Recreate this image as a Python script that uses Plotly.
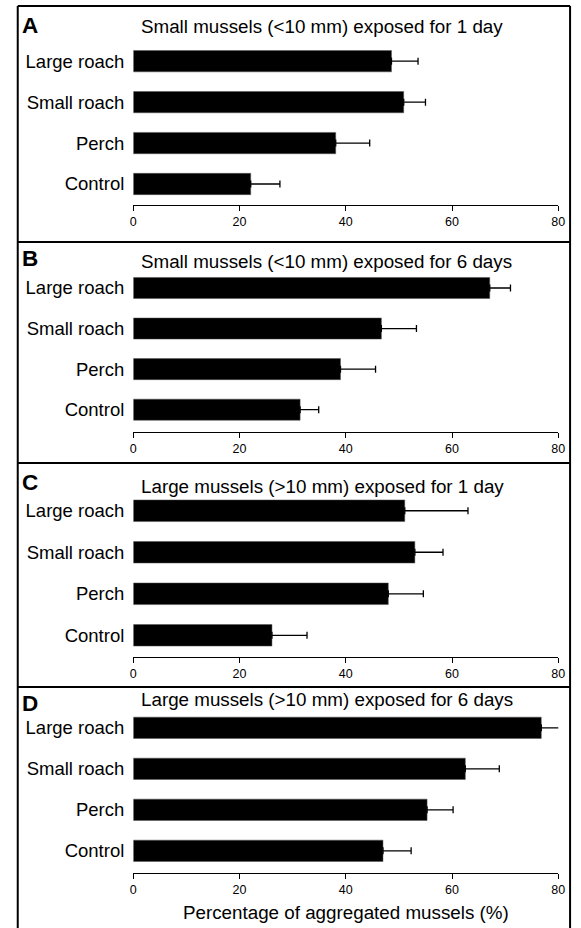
import plotly.graph_objects as go

W, H = 581, 928

categories = ["Control", "Perch", "Small roach", "Large roach"]

panel_letters = ["A", "B", "C", "D"]
panel_titles = [
    "Small mussels (<10 mm) exposed for 1 day",
    "Small mussels (<10 mm) exposed for 6 days",
    "Large mussels (>10 mm) exposed for 1 day",
    "Large mussels (>10 mm) exposed for 6 days",
]

# mean values (order: Control, Perch, Small roach, Large roach)
means_A = [22.1, 38.1, 50.9, 48.6]
means_B = [31.4, 39.0, 46.7, 67.1]
means_C = [26.1, 48.0, 53.0, 51.1]
means_D = [47.0, 55.3, 62.5, 76.8]

# upper error (error bar length)
err_A = [5.5, 6.4, 4.1, 5.0]
err_B = [3.5, 6.6, 6.6, 3.9]
err_C = [6.6, 6.6, 5.3, 11.9]
err_D = [5.3, 4.9, 6.4, 3.5]

x_ticks = [0, 20, 40, 60, 80]
x_title = "Percentage of aggregated mussels (%)"

means = [means_A, means_B, means_C, means_D]
errs = [err_A, err_B, err_C, err_D]

FONT = "Liberation Sans, Arial, sans-serif"

def py(p):
    return 1 - p / H

def px(p):
    return p / W

# layout geometry (pixels): (domain_top, axis_line, range_bottom)
geom = [
    (40.75, 205.0, -0.513),
    (267.7, 431.7, -0.542),
    (490.0, 657.3, -0.53),
    (707.3, 872.7, -0.534),
]
title_y = [27.0, 261.7, 486.5, 699.5]
letter_y = [25.5, 258.5, 482.5, 703.5]
x0_px, x80_px = 132.6, 565.0

fig = go.Figure()
layout = dict(
    width=W, height=H, autosize=False,
    margin=dict(l=0, r=0, t=0, b=0),
    paper_bgcolor="white", plot_bgcolor="white",
    showlegend=False,
    font=dict(family=FONT, color="black"),
)

annotations = []
for i in range(4):
    sfx = "" if i == 0 else str(i + 1)
    fig.add_trace(go.Bar(
        x=means[i], y=categories, orientation="h",
        marker=dict(color="black", line=dict(color="#555555", width=0.5)),
        width=0.52,
        error_x=dict(type="data", symmetric=False, array=errs[i],
                     arrayminus=[0] * 4, color="black", thickness=1.3, width=3.5),
        xaxis="x" + sfx, yaxis="y" + sfx,
        hoverinfo="skip",
    ))
    top, bot, r0 = geom[i]
    layout["xaxis" + sfx] = dict(
        domain=[px(x0_px), px(x80_px)], range=[0, 80],
        anchor="y" + sfx, tickvals=x_ticks, ticktext=[str(t) for t in x_ticks],
        showline=True, linecolor="black", linewidth=1.3,
        ticks="outside", ticklen=5, tickwidth=1.3, tickcolor="black",
        showgrid=False, zeroline=False,
        tickfont=dict(family=FONT, size=12.5, color="black"),
        fixedrange=True,
    )
    layout["yaxis" + sfx] = dict(
        domain=[py(bot), py(top)], range=[r0, 3.5],
        anchor="x" + sfx, type="category", categoryorder="array",
        categoryarray=categories,
        showline=False, showgrid=False, zeroline=False, ticks="",
        ticklabelstandoff=8,
        tickfont=dict(family=FONT, size=18.5, color="black"),
        fixedrange=True,
    )
    annotations.append(dict(
        x=px(138), y=py(title_y[i]), xref="paper", yref="paper",
        xanchor="left", yanchor="middle", showarrow=False,
        text=panel_titles[i], font=dict(family=FONT, size=18.8, color="black"),
    ))
    annotations.append(dict(
        x=px(17), y=py(letter_y[i]), xref="paper", yref="paper",
        xanchor="left", yanchor="middle", showarrow=False,
        text="<b>" + panel_letters[i] + "</b>",
        font=dict(family=FONT, size=22.5, color="black"),
    ))

annotations.append(dict(
    x=px((x0_px + x80_px) / 2), y=py(912), xref="paper", yref="paper",
    xanchor="center", yanchor="middle", showarrow=False,
    text=x_title, font=dict(family=FONT, size=18.8, color="black"),
))
layout["annotations"] = annotations

# panel frames
lw = 2
shapes = []
shapes.append(dict(type="line", xref="paper", yref="paper", x0=px(15), x1=px(15), y0=py(6), y1=py(940), line=dict(color="black", width=lw)))
shapes.append(dict(type="line", xref="paper", yref="paper", x0=px(577), x1=px(577), y0=py(6), y1=py(940), line=dict(color="black", width=lw)))
for yy in [6, 242, 463, 687]:
    shapes.append(dict(type="line", xref="paper", yref="paper", x0=px(15), x1=px(577), y0=py(yy), y1=py(yy), line=dict(color="black", width=lw)))
layout["shapes"] = shapes

fig.update_layout(**layout)
fig.write_html(
    "out.html",
    config={"displayModeBar": False},
    post_script="document.body.style.margin='0';document.body.style.padding='0';",
)
